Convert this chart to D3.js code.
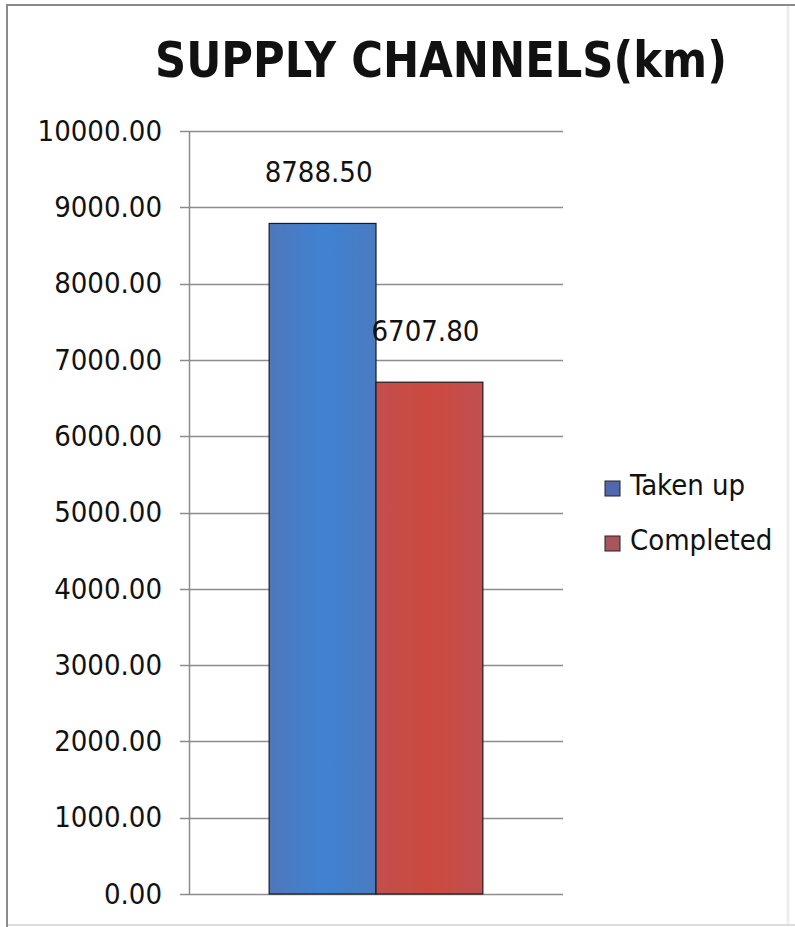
<!DOCTYPE html>
<html>
<head>
<meta charset="utf-8">
<script src="https://cdn.jsdelivr.net/npm/d3@7"></script>
<style>
  html, body { margin: 0; padding: 0; background: #ffffff; }
  svg { display: block; }
  text { font-family: "DejaVu Sans Condensed", "DejaVu Sans", sans-serif; fill: #111; }
</style>
</head>
<body>
<svg id="chart" width="795" height="927"></svg>
<script>
// Supply channel lengths (km)
const categories = ["Supply channels"];
const seriesNames = ["Taken up", "Completed"];
const seriesValues = [8788.50, 6707.80];
const tickValues = [0, 1000, 2000, 3000, 4000, 5000, 6000, 7000, 8000, 9000, 10000];
const titleText = "SUPPLY CHANNELS(km)";

const plot = { left: 189, right: 563, top: 131, bottom: 894 };

const svg = d3.select("#chart");

// gradients for the bars
const defs = svg.append("defs");
const gradStops = {
  "Taken up": ["#5077bb", "#3f82d2", "#4a7bc0"],
  "Completed": ["#c24f4d", "#cc4940", "#c0504f"]
};
seriesNames.forEach((name, i) => {
  const g = defs.append("linearGradient")
    .attr("id", "grad" + i)
    .attr("x1", "0%").attr("x2", "100%").attr("y1", "0%").attr("y2", "0%");
  gradStops[name].forEach((c, j) => {
    g.append("stop").attr("offset", (j * 50) + "%").attr("stop-color", c);
  });
});

// outer frame: darker top and left edges, faint right and bottom edges
const frame = svg.append("g").attr("class", "frame");
frame.append("line")
  .attr("x1", 6).attr("x2", 795).attr("y1", 5).attr("y2", 5)
  .attr("stroke", "#8a8a8a").attr("stroke-width", 2);
frame.append("line")
  .attr("x1", 7).attr("x2", 7).attr("y1", 4).attr("y2", 927)
  .attr("stroke", "#8a8a8a").attr("stroke-width", 2);
frame.append("line")
  .attr("x1", 788).attr("x2", 788).attr("y1", 6).attr("y2", 925)
  .attr("stroke", "#ededed").attr("stroke-width", 3);
frame.append("line")
  .attr("x1", 8).attr("x2", 795).attr("y1", 925).attr("y2", 925)
  .attr("stroke", "#dcdcdc").attr("stroke-width", 2);

// title
svg.append("text")
  .attr("x", 441).attr("y", 77)
  .attr("text-anchor", "middle")
  .attr("font-weight", "bold")
  .attr("font-size", 50)
  .attr("textLength", 572)
  .attr("lengthAdjust", "spacingAndGlyphs")
  .text(titleText);

// scales
const y = d3.scaleLinear().domain([0, 10000]).range([plot.bottom, plot.top]);
const x0 = d3.scaleBand().domain(categories)
  .range([plot.left, plot.right])
  .paddingInner(0).paddingOuter(0.375);
const x1 = d3.scaleBand().domain(seriesNames)
  .range([0, x0.bandwidth()]).padding(0);

// gridlines
const grid = svg.append("g").attr("class", "grid");
grid.selectAll("line").data(tickValues).join("line")
  .attr("x1", plot.left - 9).attr("x2", plot.right)
  .attr("y1", d => Math.round(y(d)) + 0.5).attr("y2", d => Math.round(y(d)) + 0.5)
  .attr("stroke", "#8c8c8c").attr("stroke-width", 1.5);

// y axis
const yAxis = d3.axisLeft(y)
  .tickValues(tickValues)
  .tickFormat(d3.format(".2f"))
  .tickSize(0)
  .tickPadding(27);
const ag = svg.append("g")
  .attr("transform", `translate(${plot.left},0)`)
  .call(yAxis);
ag.select(".domain").remove();
ag.selectAll("text")
  .attr("font-size", 29)
  .attr("fill", "#111")
  .style("font-family", "'DejaVu Sans Condensed', 'DejaVu Sans', sans-serif");
svg.append("line")
  .attr("x1", plot.left + 0.5).attr("x2", plot.left + 0.5)
  .attr("y1", plot.top).attr("y2", plot.bottom + 1)
  .attr("stroke", "#8c8c8c").attr("stroke-width", 1.5);

// bars
const barData = seriesNames.map((name, i) => ({ name, value: seriesValues[i], idx: i }));
const bars = svg.append("g")
  .attr("transform", `translate(${x0(categories[0])},0)`);
bars.selectAll("rect").data(barData).join("rect")
  .attr("x", d => x1(d.name))
  .attr("y", d => y(d.value))
  .attr("width", x1.bandwidth())
  .attr("height", d => y(0) - y(d.value))
  .attr("fill", d => `url(#grad${d.idx})`)
  .attr("stroke", "#1c1c24")
  .attr("stroke-width", 1.2);

// value labels
bars.selectAll("text.val").data(barData).join("text")
  .attr("class", "val")
  .attr("x", d => x1(d.name) + x1.bandwidth() / 2 - 4)
  .attr("y", d => y(d.value) - 41)
  .attr("text-anchor", "middle")
  .attr("font-size", 29)
  .text(d => d3.format(".2f")(d.value));

// legend
const legendColors = ["#5168ae", "#a9555e"];
const legend = svg.append("g").attr("transform", "translate(605,0)");
const rows = legend.selectAll("g").data(seriesNames).join("g")
  .attr("transform", (d, i) => `translate(0,${495 + i * 55})`);
rows.append("rect")
  .attr("x", 0).attr("y", -14)
  .attr("width", 15).attr("height", 15)
  .attr("fill", (d, i) => legendColors[i])
  .attr("stroke", "#222").attr("stroke-width", 1);
rows.append("text")
  .attr("x", 25).attr("y", 0)
  .attr("font-size", 29)
  .text(d => d);
</script>
</body>
</html>
